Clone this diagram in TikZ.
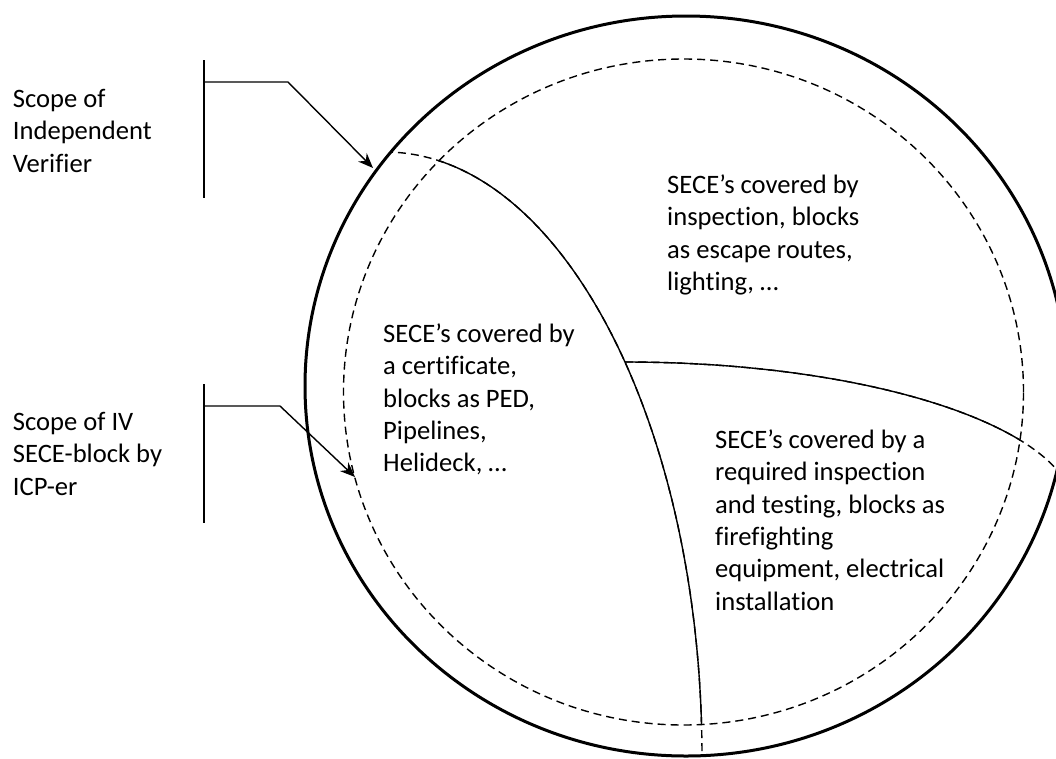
\documentclass[tikz,border=0pt]{standalone}
\usepackage{fontspec}
\setmainfont{Carlito}[Ligatures={NoCommon}]
\usetikzlibrary{arrows.meta}
\begin{document}
\begin{tikzpicture}[x=1pt,y=-1pt,
  lbl/.style={anchor=north west, inner sep=0pt, align=left, font=\fontsize{26.6}{32.4}\selectfont},
  outerline/.style={line width=3pt},
  dashline/.style={line width=1.4pt, dash pattern=on 8pt off 5pt},
  thinline/.style={line width=1.4pt},
  ptr/.style={line width=1.4pt, -{Stealth[length=15pt,width=12pt]}}]
\useasboundingbox (0,0) rectangle (1056,758);
% outer and dashed ellipses
\draw[outerline] (686,386) ellipse [x radius=381pt, y radius=370pt];
\draw[dashline] (683.5,392) ellipse [x radius=340pt, y radius=333pt];
% dividing curves: dashed outside the dashed ellipse
\coordinate (A) at (385,152);
\coordinate (J) at (625,362);
\begin{scope}
  \clip (686,386) ellipse [x radius=380pt, y radius=369pt];
  \draw[dashline] (A) arc[start angle=90, end angle=0, x radius=317pt, y radius=606pt];
  \draw[dashline] (J) arc[start angle=90, end angle=0, x radius=450pt, y radius=150pt];
\end{scope}
\begin{scope}
  \clip (683.5,392) ellipse [x radius=340pt, y radius=333pt];
  \draw[thinline] (A) arc[start angle=90, end angle=0, x radius=317pt, y radius=606pt];
  \draw[thinline] (J) arc[start angle=90, end angle=0, x radius=450pt, y radius=150pt];
\end{scope}
% labels
\node[lbl] (iv) at (12.7,85) {\rule{0pt}{22pt}Scope of\\Independent\\Verifier};
\node[lbl] (icp) at (12.7,408) {\rule{0pt}{22pt}Scope of IV\\SECE-block by\\ICP-er};
\node[lbl] (cert) at (383,320) {\rule{0pt}{22pt}SECE’s covered by\\a certificate,\\blocks as PED,\\Pipelines,\\Helideck, …};
\node[lbl] (insp) at (667,171) {\rule{0pt}{22pt}SECE’s covered by\\inspection, blocks\\as escape routes,\\lighting, …};
\node[lbl] (req) at (715,426) {\rule{0pt}{22pt}SECE’s covered by a\\required inspection\\and testing, blocks as\\firefighting\\equipment, electrical\\installation};
% brackets and pointers
\coordinate (b1t) at (204,60);
\coordinate (b1b) at (204,198);
\coordinate (b1m) at (204,82);
\coordinate (b1k) at (288,82);
\coordinate (b1e) at (373,168);
\draw[thinline] (b1t) -- (b1b);
\draw[ptr] (b1m) -- (b1k) -- (b1e);
\coordinate (b2t) at (204,384);
\coordinate (b2b) at (204,523);
\coordinate (b2m) at (204,406);
\coordinate (b2k) at (280,406);
\coordinate (b2e) at (355,477);
\draw[thinline] (b2t) -- (b2b);
\draw[ptr] (b2m) -- (b2k) -- (b2e);
\end{tikzpicture}
\end{document}
